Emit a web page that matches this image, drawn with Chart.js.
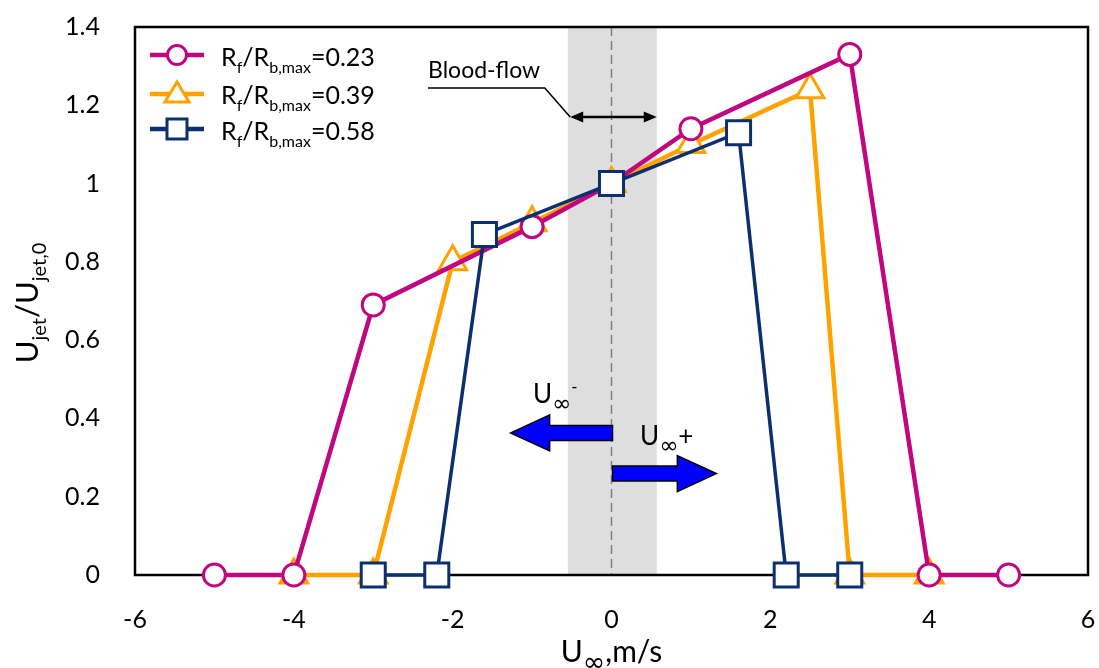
<!DOCTYPE html>
<html>
<head>
<meta charset="utf-8">
<script src="https://cdn.jsdelivr.net/npm/chart.js@4.4.0/dist/chart.umd.min.js"></script>
<style>
  html, body { margin: 0; padding: 0; background: #fff; }
  #wrap { width: 1099px; height: 668px; }
</style>
</head>
<body>
<div id="wrap"><canvas id="chart" width="1099" height="668"></canvas></div>
<script>
// ─── Data ──────────────────────────────────────────────
const X_023 = [-5, -4, -3, -1, 0, 1, 3, 4, 5];
const Y_023 = [0, 0, 0.69, 0.89, 1, 1.14, 1.33, 0, 0];

const X_039 = [-4, -3, -2, -1, 0, 1, 2.5, 3, 4];
const Y_039 = [0, 0, 0.80, 0.90, 1, 1.10, 1.24, 0, 0];

const X_058 = [-3, -2.2, -1.6, 0, 1.6, 2.2, 3];
const Y_058 = [0, 0, 0.87, 1, 1.13, 0, 0];

const X_TICKS = [-6, -4, -2, 0, 2, 4, 6];
const Y_TICKS = [0, 0.2, 0.4, 0.6, 0.8, 1, 1.2, 1.4];

const LEGEND_VALUES = ['0.23', '0.39', '0.58'];
const BAND = [-0.55, 0.57];   // blood-flow region

// ─── Styles ────────────────────────────────────────────
const MAGENTA = '#c1077f';
const ORANGE = '#ffa200';
const NAVY = '#0c306f';
const FONT = 'Lato, "Open Sans", sans-serif';

const zip = (xs, ys) => xs.map((x, i) => ({ x: x, y: ys[i] }));

// kind 0 normal, 1 subscript, 2 superscript, 3 subscript infinity
function fontFor(kind, size) {
  if (kind === 3) return Math.round(size * 0.9) + 'px "DejaVu Sans", sans-serif';
  return (kind ? Math.round(size * 0.64) : size) + 'px ' + FONT;
}

function richWidth(ctx, parts, size) {
  let w = 0;
  parts.forEach(([t, k]) => { ctx.font = fontFor(k, size); w += ctx.measureText(t).width; });
  return w;
}

function drawRich(ctx, parts, x, y, size) {
  ctx.textBaseline = 'alphabetic';
  ctx.textAlign = 'left';
  parts.forEach(([t, k]) => {
    ctx.font = fontFor(k, size);
    let dy = 0;
    if (k === 1) dy = size * 0.27;
    if (k === 2) dy = -size * 0.36;
    if (k === 3) dy = size * 0.30;
    ctx.fillText(t, x, y + dy);
    x += ctx.measureText(t).width;
  });
}

function drawMarker(ctx, style, x, y, color) {
  ctx.save();
  ctx.fillStyle = '#fff';
  ctx.strokeStyle = color;
  ctx.lineWidth = 3;
  ctx.beginPath();
  if (style === 'circle') {
    ctx.arc(x, y, 9.5, 0, Math.PI * 2);
  } else if (style === 'triangle') {
    ctx.moveTo(x, y - 12);
    ctx.lineTo(x + 12, y + 8);
    ctx.lineTo(x - 12, y + 8);
    ctx.closePath();
  } else {
    ctx.rect(x - 10, y - 10, 20, 20);
  }
  ctx.fill();
  ctx.stroke();
  ctx.restore();
}

function blockArrow(ctx, x0, x1, yc) {
  // x0 tail, x1 tip
  const dir = Math.sign(x1 - x0);
  const headLen = 39, shaftH = 7.5, headH = 18;
  const xb = x1 - dir * headLen;
  ctx.save();
  ctx.beginPath();
  ctx.moveTo(x0, yc - shaftH);
  ctx.lineTo(xb, yc - shaftH);
  ctx.lineTo(xb, yc - headH);
  ctx.lineTo(x1, yc);
  ctx.lineTo(xb, yc + headH);
  ctx.lineTo(xb, yc + shaftH);
  ctx.lineTo(x0, yc + shaftH);
  ctx.closePath();
  ctx.fillStyle = '#0000ff';
  ctx.fill();
  ctx.strokeStyle = '#000';
  ctx.lineWidth = 1.5;
  ctx.stroke();
  ctx.restore();
}

function arrowHead(ctx, x, y, dir) {
  ctx.beginPath();
  ctx.moveTo(x, y);
  ctx.lineTo(x - dir * 13, y - 5.5);
  ctx.lineTo(x - dir * 13, y + 5.5);
  ctx.closePath();
  ctx.fill();
}

// ─── Background: band, dashed zero line, frame ─────────
const backdrop = {
  id: 'backdrop',
  beforeDatasetsDraw(chart) {
    const { ctx, chartArea: a, scales: { x } } = chart;
    ctx.save();
    const b0 = x.getPixelForValue(BAND[0]);
    const b1 = x.getPixelForValue(BAND[1]);
    ctx.fillStyle = '#dedede';
    ctx.fillRect(b0, a.top, b1 - b0, a.bottom - a.top);

    const x0 = x.getPixelForValue(0);
    ctx.strokeStyle = '#7f7f7f';
    ctx.lineWidth = 1.5;
    ctx.setLineDash([9, 5]);
    ctx.beginPath();
    ctx.moveTo(x0, a.top);
    ctx.lineTo(x0, a.bottom);
    ctx.stroke();
    ctx.setLineDash([]);

    ctx.strokeStyle = '#000';
    ctx.lineWidth = 2.5;
    ctx.strokeRect(a.left, a.top, a.right - a.left, a.bottom - a.top);
    ctx.restore();
  }
};

// ─── Overlay: legend, annotations, axis titles ─────────
const overlay = {
  id: 'overlay',
  afterDraw(chart) {
    const { ctx, scales: { x, y } } = chart;
    ctx.save();
    ctx.fillStyle = '#000';

    // Legend
    const rows = [
      { color: MAGENTA, style: 'circle', cy: 55, base: 66 },
      { color: ORANGE, style: 'triangle', cy: 94, base: 104 },
      { color: NAVY, style: 'rect', cy: 129, base: 140 }
    ];
    rows.forEach((r, i) => {
      ctx.strokeStyle = r.color;
      ctx.lineWidth = 4.5;
      ctx.beginPath();
      ctx.moveTo(150, r.cy);
      ctx.lineTo(204, r.cy);
      ctx.stroke();
      drawMarker(ctx, r.style, 177, r.cy, r.color);
      ctx.fillStyle = '#000';
      drawRich(ctx, [['R', 0], ['f', 1], ['/R', 0], ['b,max', 1], ['=' + LEGEND_VALUES[i], 0]], 221, r.base, 25);
    });

    // Blood-flow annotation
    ctx.fillStyle = '#000';
    ctx.font = '23px ' + FONT;
    ctx.textAlign = 'left';
    ctx.textBaseline = 'alphabetic';
    ctx.fillText('Blood-flow', x.getPixelForValue(-2.31), y.getPixelForValue(1.27));

    const ly = y.getPixelForValue(1.244);
    const ay = y.getPixelForValue(1.170);
    const ax0 = x.getPixelForValue(-0.52);
    const ax1 = x.getPixelForValue(0.57);
    ctx.strokeStyle = '#000';
    ctx.lineWidth = 1.5;
    ctx.beginPath();
    ctx.moveTo(x.getPixelForValue(-2.31), ly);
    ctx.lineTo(x.getPixelForValue(-0.84), ly);
    ctx.lineTo(ax0, ay);
    ctx.stroke();
    ctx.lineWidth = 2.5;
    ctx.beginPath();
    ctx.moveTo(ax0 + 6, ay);
    ctx.lineTo(ax1 - 6, ay);
    ctx.stroke();
    arrowHead(ctx, ax0, ay, -1);
    arrowHead(ctx, ax1, ay, 1);

    // Free-stream direction arrows
    const x0 = x.getPixelForValue(0) + 1;
    blockArrow(ctx, x0, x.getPixelForValue(-1.27), y.getPixelForValue(0.363));
    blockArrow(ctx, x0, x.getPixelForValue(1.32), y.getPixelForValue(0.259));

    ctx.fillStyle = '#000';
    drawRich(ctx, [['U', 0], ['\u221e', 3], ['-', 2]], x.getPixelForValue(-0.99), y.getPixelForValue(0.44), 26);
    drawRich(ctx, [['U', 0], ['\u221e', 3], ['+', 0]], x.getPixelForValue(0.36), y.getPixelForValue(0.332), 26);

    // Axis titles
    const xt = [['U', 0], ['\u221e', 3], [',m/s', 0]];
    const xw = richWidth(ctx, xt, 30);
    drawRich(ctx, xt, (chart.chartArea.left + chart.chartArea.right) / 2 - xw / 2, 662, 30);

    const yt = [['U', 0], ['jet', 1], ['/U', 0], ['jet,0', 1]];
    const yw = richWidth(ctx, yt, 31);
    ctx.save();
    ctx.translate(38, 303);
    ctx.rotate(-Math.PI / 2);
    drawRich(ctx, yt, -yw / 2, 0, 31);
    ctx.restore();

    ctx.restore();
  }
};

// ─── Chart ─────────────────────────────────────────────
const common = {
  showLine: true,
  clip: false,
  pointBackgroundColor: '#fff',
  pointBorderWidth: 3,
  pointHoverRadius: 0
};

new Chart(document.getElementById('chart').getContext('2d'), {
  type: 'scatter',
  data: {
    datasets: [
      Object.assign({
        label: 'Rf/Rb,max=0.58',
        data: zip(X_058, Y_058),
        borderColor: NAVY,
        pointBorderColor: NAVY,
        borderWidth: 3.5,
        pointStyle: 'rect',
        pointRadius: 17
      }, common),
      Object.assign({
        label: 'Rf/Rb,max=0.23',
        data: zip(X_023, Y_023),
        borderColor: MAGENTA,
        pointBorderColor: MAGENTA,
        borderWidth: 4.5,
        pointStyle: 'circle',
        pointRadius: 11
      }, common),
      Object.assign({
        label: 'Rf/Rb,max=0.39',
        data: zip(X_039, Y_039),
        borderColor: ORANGE,
        pointBorderColor: ORANGE,
        borderWidth: 4.5,
        pointStyle: 'triangle',
        pointRadius: 16
      }, common)
    ]
  },
  options: {
    responsive: false,
    devicePixelRatio: 1,
    animation: false,
    layout: { autoPadding: false, padding: { top: 27, right: 11, left: 0, bottom: 0 } },
    plugins: {
      legend: { display: false },
      tooltip: { enabled: false }
    },
    scales: {
      x: {
        type: 'linear',
        min: -6,
        max: 6,
        grid: { display: false },
        border: { display: false },
        afterBuildTicks: (s) => { s.ticks = X_TICKS.map(v => ({ value: v })); },
        afterFit: (s) => { s.height = 93; s.paddingLeft = 0; s.paddingRight = 0; },
        ticks: {
          color: '#000',
          padding: 22,
          maxRotation: 0,
          font: { family: FONT, size: 25 },
          callback: (v) => String(v)
        }
      },
      y: {
        type: 'linear',
        min: 0,
        max: 1.4,
        grid: { display: false },
        border: { display: false },
        afterBuildTicks: (s) => { s.ticks = Y_TICKS.map(v => ({ value: v })); },
        afterFit: (s) => { s.width = 135; s.paddingTop = 0; s.paddingBottom = 0; },
        ticks: {
          color: '#000',
          padding: 27,
          font: { family: FONT, size: 25 },
          callback: (v) => String(v)
        }
      }
    }
  },
  plugins: [backdrop, overlay]
});
</script>
</body>
</html>
